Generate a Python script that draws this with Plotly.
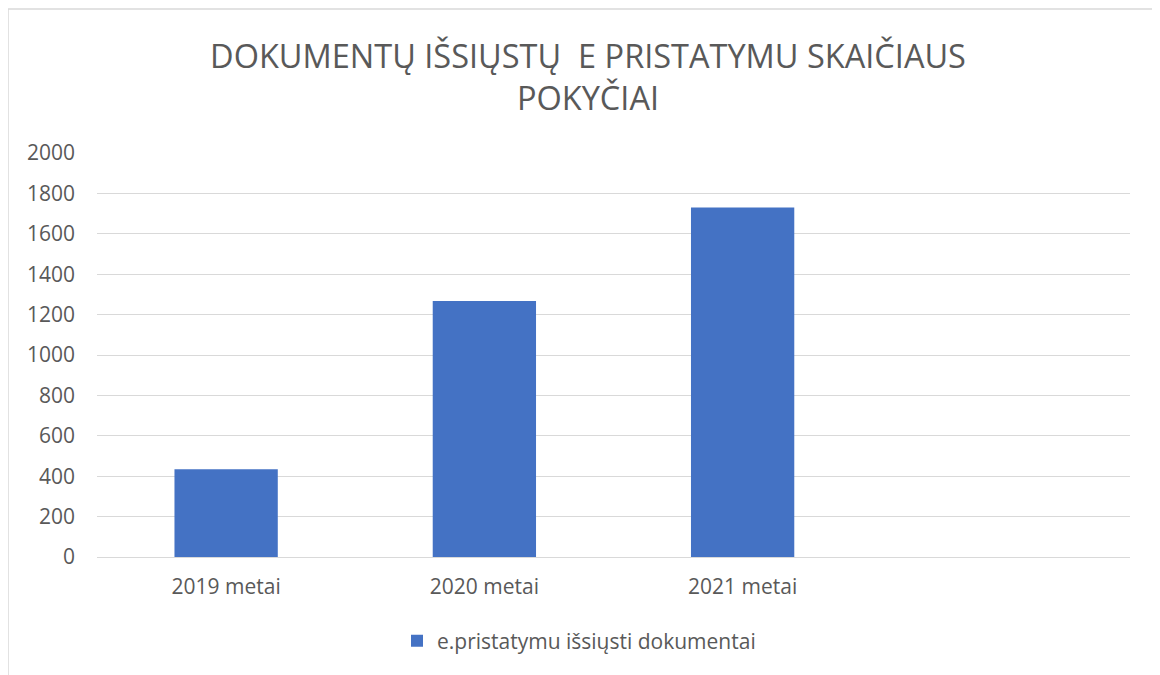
import plotly.graph_objects as go

categories = ["2019 metai", "2020 metai", "2021 metai"]
values = [435, 1267, 1730]
series_name = "e.pristatymu išsiųsti dokumentai"
title_text = "DOKUMENTŲ IŠSIŲSTŲ  E PRISTATYMU SKAIČIAUS<br>POKYČIAI"
y_ticks = [0, 200, 400, 600, 800, 1000, 1200, 1400, 1600, 1800, 2000]

TEXT = "#595959"
GRID = "#D9D9D9"
BAR = "#4472C4"
FONT = "Open Sans"

OFF = 8  # page body margin
W, H = 1160 - OFF, 675 - OFF
# plot area in screen coordinates
SX0, SX1, SY0, SY1 = 97, 1130, 153, 557
L, R = SX0 - OFF, W - (SX1 - OFF)
T, B = SY0 - OFF, H - (SY1 - OFF)
pw, ph = SX1 - SX0, SY1 - SY0


def px(x):
    return (x - SX0) / pw


def py(y):
    return (SY1 - y) / ph


fig = go.Figure()
fig.add_trace(go.Bar(x=categories, y=values, name=series_name,
                     marker=dict(color=BAR, line=dict(width=0)),
                     showlegend=True))

fig.update_layout(
    width=W, height=H,
    margin=dict(l=L, r=R, t=T, b=B),
    paper_bgcolor="white", plot_bgcolor="white",
    font=dict(family=FONT, color=TEXT, size=21),
    title=dict(text=title_text, x=px(588), xref="paper", xanchor="center",
               y=1 - 60 / H, yref="container", yanchor="top",
               font=dict(family=FONT, size=32.5, color=TEXT)),
    bargap=0.6,
    xaxis=dict(type="category", range=[-0.5, 3.5], showgrid=False,
               showline=False, ticks="", ticklabelstandoff=15,
               tickfont=dict(size=21, color=TEXT)),
    yaxis=dict(range=[0, 2000], tickvals=y_ticks, showgrid=True,
               gridcolor=GRID, gridwidth=1.3, zeroline=True,
               zerolinecolor=GRID, zerolinewidth=1.3, showline=False,
               ticks="", ticklabelstandoff=21,
               tickfont=dict(size=21, color=TEXT)),
    legend=dict(orientation="h", x=px(579), xanchor="center",
                y=py(641), yanchor="middle",
                font=dict(size=21, color=TEXT), itemwidth=30),
    shapes=[dict(type="rect", xref="paper", yref="paper",
                 x0=px(8), x1=px(1158), y0=py(690), y1=py(9),
                 line=dict(color="#D9D9D9", width=1.5), layer="below")],
)

fig.write_html("out.html")
